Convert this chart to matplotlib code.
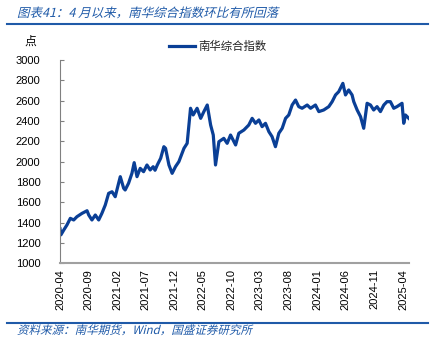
import numpy as np
import pandas as pd
import matplotlib
matplotlib.use('Agg')
import matplotlib.pyplot as plt
from matplotlib.lines import Line2D
from matplotlib.textpath import TextPath
from matplotlib.patches import PathPatch
from matplotlib.font_manager import FontProperties
from matplotlib.transforms import Affine2D

plt.rcParams['font.family'] = ['Liberation Sans', 'Noto Sans CJK SC', 'DejaVu Sans']

# 南华综合指数
dates = ['2020-04-01', '2020-04-06', '2020-04-21', '2020-05-08', '2020-05-26', '2020-06-13',
         '2020-06-30', '2020-07-27', '2020-08-23', '2020-09-01', '2020-09-18', '2020-10-06',
         '2020-10-24', '2020-11-10', '2020-11-28', '2020-12-16', '2021-01-03', '2021-01-20',
         '2021-02-07', '2021-02-16', '2021-03-06', '2021-03-14', '2021-04-01', '2021-04-19',
         '2021-05-01', '2021-05-16', '2021-06-02', '2021-06-20', '2021-07-08', '2021-07-25',
         '2021-08-10', '2021-08-20', '2021-09-01', '2021-09-19', '2021-10-06', '2021-10-15',
         '2021-11-02', '2021-11-19', '2021-12-07', '2021-12-25', '2022-01-21', '2022-02-07',
         '2022-02-25', '2022-03-11', '2022-04-01', '2022-04-20', '2022-05-07', '2022-05-25',
         '2022-06-12', '2022-06-26', '2022-07-08', '2022-07-26', '2022-08-21', '2022-09-08',
         '2022-09-26', '2022-10-23', '2022-11-09', '2022-12-06', '2023-01-01', '2023-01-19',
         '2023-02-06', '2023-02-24', '2023-03-13', '2023-03-31', '2023-04-18', '2023-05-05',
         '2023-05-23', '2023-06-10', '2023-06-28', '2023-07-16', '2023-08-02', '2023-08-20',
         '2023-09-07', '2023-09-24', '2023-10-12', '2023-11-08', '2023-11-26', '2023-12-22',
         '2024-01-09', '2024-02-04', '2024-03-02', '2024-03-20', '2024-04-07', '2024-04-24',
         '2024-05-16', '2024-05-30', '2024-06-16', '2024-07-04', '2024-07-13', '2024-07-31',
         '2024-08-18', '2024-09-04', '2024-09-22', '2024-10-10', '2024-10-27', '2024-11-14',
         '2024-12-02', '2024-12-20', '2025-01-06', '2025-01-24', '2025-02-11', '2025-02-28',
         '2025-03-27', '2025-04-05', '2025-04-14', '2025-05-02']
values = [1340, 1280, 1327, 1377, 1442, 1426,
          1458, 1491, 1517, 1475, 1426, 1475,
          1426, 1491, 1573, 1688, 1704, 1655,
          1787, 1852, 1738, 1721, 1787, 1885,
          1990, 1852, 1934, 1901, 1967, 1918,
          1950, 1915, 1967, 2033, 2147, 2131,
          1967, 1885, 1951, 2000, 2131, 2180,
          2525, 2459, 2525, 2426, 2492, 2557,
          2360, 2262, 1967, 2196, 2229, 2180,
          2262, 2164, 2279, 2311, 2360, 2426,
          2377, 2410, 2344, 2377, 2295, 2246,
          2147, 2279, 2328, 2426, 2459, 2557,
          2606, 2541, 2525, 2557, 2525, 2557,
          2492, 2508, 2541, 2590, 2656, 2688,
          2770, 2656, 2705, 2656, 2590, 2508,
          2443, 2328, 2574, 2557, 2508, 2541,
          2492, 2557, 2590, 2590, 2525, 2541,
          2574, 2377, 2459, 2426]
tick_labels = ['2020-04', '2020-09', '2021-02', '2021-07', '2021-12', '2022-05', '2022-10',
               '2023-03', '2023-08', '2024-01', '2024-06', '2024-11', '2025-04']
y_ticks = [1000, 1200, 1400, 1600, 1800, 2000, 2200, 2400, 2600, 2800, 3000]

x = pd.to_datetime(dates)
tick_pos = pd.to_datetime([t + '-01' for t in tick_labels])

blue = '#0a3f96'
head_blue = '#1f5aa8'

fig = plt.figure(figsize=(4.36, 3.57), dpi=100)
ax = fig.add_axes([0.1376, 0.2625, 0.800, 0.5695])

ax.plot(x, values, color=blue, lw=2.3, label='南华综合指数')

ax.set_ylim(1000, 3000)
ax.set_yticks(y_ticks)
ax.set_xlim(x[0], x[-1])
ax.set_xticks(tick_pos)
ax.set_xticklabels(tick_labels, rotation=90, fontsize=8)
ax.tick_params(axis='y', labelsize=8, direction='in', length=3, color='#808080', pad=14)
ax.tick_params(axis='x', length=0, pad=4)
for s in ['top', 'right']:
    ax.spines[s].set_visible(False)
ax.spines['left'].set_color('#808080')
ax.spines['bottom'].set_color('#a0a0a0')
ax.spines['bottom'].set_linewidth(1.5)


# 斜体中文（CJK字体没有斜体，用剪切变换模拟）
def slanted_text(s, x_px, y_px, size, color):
    fp = FontProperties(family=['Noto Sans CJK SC', 'DejaVu Sans'])
    tp = TextPath((0, 0), s, size=size, prop=fp)
    tr = Affine2D().skew_deg(14, 0).scale(1 / 72).translate(x_px / 100, y_px / 100)
    fig.add_artist(PathPatch(tp, transform=tr + fig.dpi_scale_trans,
                             facecolor=color, edgecolor='none'))


# 标题、分隔线、单位、图例、来源
slanted_text('图表41：4 月以来，南华综合指数环比有所回落', 17, 357 - 17, 9, head_blue)
fig.add_artist(Line2D([0.016, 0.982], [0.933, 0.933], color=head_blue, lw=1.5))
fig.text(0.055, 0.882, '点', fontsize=8.5, va='center', ha='left')
fig.add_artist(Line2D([0.388, 0.447], [0.871, 0.871], color=blue, lw=2.3))
fig.text(0.455, 0.871, '南华综合指数', fontsize=8.2, va='center', ha='left', color='#222222')
fig.add_artist(Line2D([0.016, 0.982], [0.095, 0.095], color=head_blue, lw=1.5))
slanted_text('资料来源：南华期货，Wind，国盛证券研究所', 17, 357 - 334, 8.3, head_blue)

fig.savefig('out.png', dpi=100)
